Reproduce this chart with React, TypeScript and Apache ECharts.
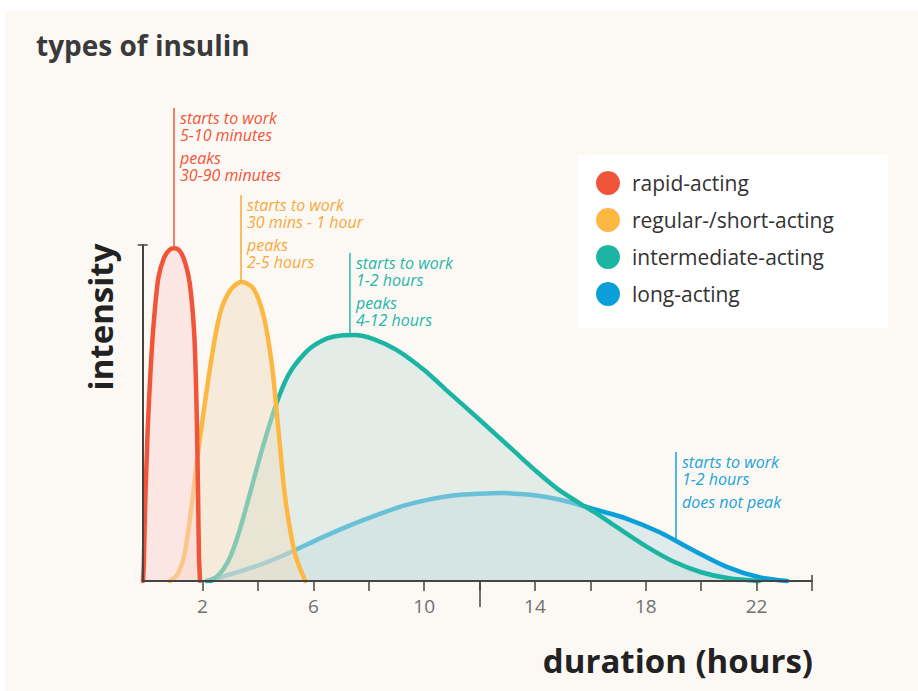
import React, { useEffect, useRef } from "react";
import * as echarts from "echarts";

// ---------- data ----------
const seriesNames = ["rapid-acting", "regular-/short-acting", "intermediate-acting", "long-acting"];
const seriesColors = ["#F0553A", "#FDB843", "#1CB5A4", "#0A9FD8"];
const areaColors = [
  "rgba(252,211,209,0.5)",
  "rgba(240,221,193,0.5)",
  "rgba(201,224,218,0.5)",
  "rgba(191,220,227,0.5)",
];

const rapid: [number, number][] = [
  [-0.15, 0], [-0.12, 0.05], [-0.08, 0.2], [0.02, 0.45], [0.12, 0.62], [0.22, 0.75],
  [0.4, 0.9], [0.6, 0.96], [0.8, 0.985], [0.98, 0.99], [1.2, 0.98], [1.38, 0.945],
  [1.54, 0.885], [1.69, 0.75], [1.76, 0.6], [1.8, 0.45], [1.84, 0.25], [1.87, 0.08], [1.91, 0],
];
const regular: [number, number][] = [
  [0.82, 0], [1.1, 0.02], [1.35, 0.08], [1.6, 0.22], [1.8, 0.36], [2.0, 0.48], [2.3, 0.65],
  [2.63, 0.795], [3.0, 0.865], [3.41, 0.89], [3.84, 0.87], [4.2, 0.79], [4.5, 0.645],
  [4.74, 0.449], [4.98, 0.25], [5.28, 0.1], [5.46, 0.05], [5.71, 0],
];
const intermediate: [number, number][] = [
  [2.15, 0], [2.5, 0.012], [2.75, 0.035], [3.0, 0.072], [3.25, 0.128], [3.5, 0.197],
  [3.75, 0.272], [4.0, 0.348], [4.25, 0.42], [4.5, 0.487], [4.75, 0.547], [5.0, 0.597],
  [5.25, 0.633], [5.5, 0.66], [5.75, 0.683], [6.0, 0.7], [6.5, 0.722], [7.0, 0.731],
  [7.5, 0.732], [8.17, 0.72], [9.0, 0.688], [10.0, 0.628], [10.8, 0.568], [12.0, 0.48],
  [13.2, 0.39], [14.0, 0.33], [14.8, 0.275], [15.6, 0.232], [16.2, 0.202], [17.0, 0.158],
  [18.0, 0.104], [19.0, 0.058], [20.0, 0.026], [21.0, 0.008], [22.1, 0],
];
const longActing: [number, number][] = [
  [2.27, 0], [3.0, 0.02], [3.96, 0.045], [5.16, 0.085], [6.24, 0.127], [7.3, 0.165],
  [8.4, 0.2], [9.3, 0.225], [10.2, 0.243], [11.1, 0.255], [12.0, 0.26], [12.8, 0.262],
  [13.6, 0.258], [14.4, 0.25], [15.2, 0.236], [16.2, 0.212], [17.3, 0.186], [18.5, 0.145],
  [19.7, 0.092], [20.9, 0.043], [22.1, 0.011], [23.1, 0],
];

const xTickValues = [2, 4, 6, 8, 10, 12, 14, 16, 18, 20, 22, 24];
const xLabelValues = [2, 6, 10, 14, 18, 22];
const xLongTick = [12];
const xEndCap = [24];
const yCap = [1];

const annotations = [
  { x: 0.97, bottom: 0.99, top: 1.408, color: "#F0553A",
    blocks: [["starts to work", "5-10 minutes"], ["peaks", "30-90 minutes"]] },
  { x: 3.39, bottom: 0.89, top: 1.149, color: "#F7A83A",
    blocks: [["starts to work", "30 mins - 1 hour"], ["peaks", "2-5 hours"]] },
  { x: 7.32, bottom: 0.732, top: 0.976, color: "#26B6A8",
    blocks: [["starts to work", "1-2 hours"], ["peaks", "4-12 hours"]] },
  { x: 19.09, bottom: 0.12, top: 0.384, color: "#1AA3D9",
    blocks: [["starts to work", "1-2 hours"], ["does not peak"]] },
];

const titleText = "types of insulin";
const yTitle = "intensity";
const xTitle = "duration (hours)";

const FONT = "'Open Sans', 'Noto Sans', sans-serif";

export default function App() {
  const ref = useRef<HTMLDivElement>(null);

  useEffect(() => {
    if (!ref.current) return;
    const chart = echarts.init(ref.current, undefined, { renderer: "svg" });
    const datasets = [rapid, regular, intermediate, longActing];
    // draw order: long (bottom) -> rapid (top)
    const order = [3, 2, 1, 0];
    const series = order.map((i, k) => ({
      name: seriesNames[i],
      type: "line",
      data: datasets[i],
      smooth: 0.3,
      showSymbol: false,
      symbol: "none",
      clip: false,
      z: 2 + k,
      itemStyle: { color: seriesColors[i] },
      lineStyle: { color: seriesColors[i], width: 4.5, cap: "round" },
      areaStyle: { color: areaColors[i], opacity: 1 },
      emphasis: { disabled: true },
      silent: true,
    }));

    const baseX = {
      type: "value",
      min: -0.16,
      max: 24,
      position: "bottom",
      z: 10,
      splitLine: { show: false },
    };
    const option: any = {
      animation: false,
      backgroundColor: "#ffffff",
      grid: { left: 142.7, right: 106, top: 245, bottom: 110, containLabel: false },
      legend: {
        data: seriesNames,
        orient: "vertical",
        left: 578,
        top: 155,
        icon: "circle",
        itemWidth: 24,
        itemHeight: 24,
        itemGap: 13,
        padding: [16, 54, 22, 18],
        backgroundColor: "#ffffff",
        selectedMode: false,
        textStyle: { fontSize: 21, color: "#333333", fontFamily: FONT, padding: [0, 0, 0, 7] },
      },
      xAxis: [
        {
          ...baseX,
          axisLine: { show: true, onZero: false, lineStyle: { color: "#444444", width: 2 } },
          axisTick: { show: true, customValues: xTickValues, length: 10, lineStyle: { color: "#444444", width: 1.5 } },
          axisLabel: { show: true, customValues: xLabelValues, color: "#707070", fontSize: 19, fontFamily: FONT, margin: 15 },
        },
        {
          ...baseX,
          axisLine: { show: false, onZero: false },
          axisTick: { show: true, customValues: xLongTick, length: 26, lineStyle: { color: "#444444", width: 1.5 } },
          axisLabel: { show: false },
        },
        {
          ...baseX,
          axisLine: { show: false, onZero: false },
          axisTick: { show: true, inside: true, customValues: xEndCap, length: 6, lineStyle: { color: "#444444", width: 1.5 } },
          axisLabel: { show: false },
        },
      ],
      yAxis: [
        {
          type: "value", min: 0, max: 1, position: "left", z: 10,
          splitLine: { show: false },
          axisLine: { show: true, onZero: false, lineStyle: { color: "#444444", width: 2 } },
          axisTick: { show: true, customValues: yCap, length: 5, lineStyle: { color: "#444444", width: 1.5 } },
          axisLabel: { show: false },
        },
        {
          type: "value", min: 0, max: 1, position: "left", z: 10,
          splitLine: { show: false },
          axisLine: { show: false, onZero: false },
          axisTick: { show: true, inside: true, customValues: yCap, length: 5, lineStyle: { color: "#444444", width: 1.5 } },
          axisLabel: { show: false },
        },
      ],
      series,
    };
    chart.setOption(option);

    const graphics: any[] = [
      { type: "rect", z: -100, silent: true, shape: { x: 5, y: 11, width: 913, height: 680 }, style: { fill: "#FCF9F5" } },
      { type: "text", silent: true, style: { text: titleText, x: 36, y: 45, fill: "#3A3A3A", font: `bold 28px ${FONT}`, verticalAlign: "middle", align: "left" } },
      { type: "text", silent: true, x: 100, y: 317, rotation: Math.PI / 2, style: { text: yTitle, x: 0, y: 0, fill: "#222222", font: `bold 33px ${FONT}`, verticalAlign: "middle", align: "center" } },
      { type: "text", silent: true, style: { text: xTitle, x: 813, y: 660, fill: "#222222", font: `bold 33px ${FONT}`, verticalAlign: "middle", align: "right" } },
    ];
    annotations.forEach((a) => {
      const pb = chart.convertToPixel({ gridIndex: 0 }, [a.x, a.bottom]) as number[];
      const pt = chart.convertToPixel({ gridIndex: 0 }, [a.x, a.top]) as number[];
      graphics.push({
        type: "line", silent: true, z: 50,
        shape: { x1: pt[0], y1: pt[1], x2: pb[0], y2: pb[1] },
        style: { stroke: a.color, lineWidth: 1.5 },
      });
      a.blocks.forEach((b, k) => {
        b.forEach((line, j) => {
          graphics.push({
            type: "text", silent: true, z: 50,
            style: {
              text: line, x: pt[0] + 6, y: pt[1] + 10 + k * 40 + j * 17, fill: a.color,
              font: `italic 16px ${FONT}`, verticalAlign: "middle", align: "left",
            },
          });
        });
      });
    });
    chart.setOption({ graphic: graphics });

    return () => chart.dispose();
  }, []);

  return (
    <div style={{ position: "fixed", left: 0, top: 0, width: 918, height: 691, background: "#ffffff" }}>
      <div ref={ref} style={{ width: 918, height: 691 }} />
    </div>
  );
}
